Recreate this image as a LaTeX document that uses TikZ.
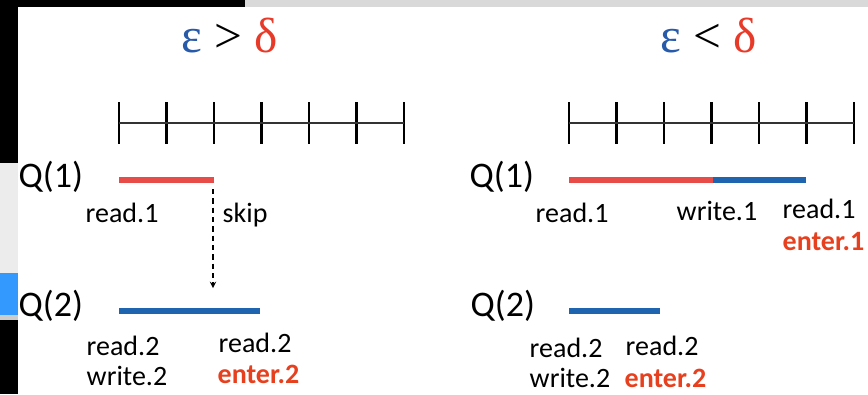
\documentclass[tikz,border=0pt]{standalone}
\usepackage{fontspec}
\setmainfont{Carlito}
\newfontfamily\symfont{Liberation Serif}
\definecolor{barred}{RGB}{232,76,72}
\definecolor{barblue}{RGB}{30,100,175}
\definecolor{epsblue}{RGB}{40,90,170}
\definecolor{deltared}{RGB}{232,58,40}
\definecolor{enterred}{RGB}{230,64,30}
\definecolor{winblue}{RGB}{51,153,255}
\tikzset{
  lbl/.style={anchor=base west,inner sep=0pt,font=\fontsize{21}{25}\selectfont},
  enter/.style={lbl,text=enterred,font=\fontsize{21}{25}\selectfont\bfseries},
  qlbl/.style={anchor=base west,inner sep=0pt,font=\fontsize{27}{32}\selectfont},
  title/.style={anchor=base,inner sep=0pt,font=\fontsize{37}{42}\symfont},
  bar/.style={line width=4.5pt},
  tick/.style={line width=2.2pt},
}
\newcommand{\eps}{\textcolor{epsblue}{ε}}
\newcommand{\dlt}{\textcolor{deltared}{δ}}
\begin{document}
\begin{tikzpicture}[x=.75pt,y=-.75pt,>=stealth,line width=1.1pt]
  \useasboundingbox (0,0) rectangle (868,394);
  % window edges
  \fill[black] (0,0) rectangle (18,394);
  \fill[black] (0,0) rectangle (245,7);
  \fill[gray!30] (245,0) rectangle (868,7);
  \fill[gray!15] (0,163) rectangle (18,273);
  \fill[winblue] (0,273) rectangle (18,315);
  \fill[gray!40] (0,315) rectangle (18,320);

  % eps > delta
  \node[title] (tl) at (230,52) {\eps{} > \dlt};
  \foreach \i in {0,...,6}
    \draw[tick] (119+47.5*\i,102)--(119+47.5*\i,144);
  \draw[black!80] (119,123)--(404,123);
  \node[qlbl] (qa) at (18,187) {Q(1)};
  \node[qlbl] (qb) at (18,316) {Q(2)};
  \coordinate (a0) at (119,180);
  \coordinate (a1) at (214,180);
  \coordinate (b0) at (119,311);
  \coordinate (b1) at (260,311);
  \draw[bar,barred] (a0)--(a1);
  \draw[bar,barblue] (b0)--(b1);
  \coordinate (s0) at (213,189);
  \coordinate (s1) at (213,288);
  \draw[dashed,dash pattern=on 4pt off 3pt,->] (s0)--(s1);
  \node[lbl] (ra) at (85,222) {read.1};
  \node[lbl] (sk) at (222,222) {skip};
  \node[lbl] (rb) at (86,355) {read.2};
  \node[lbl] (wb) at (86,385) {write.2};
  \node[lbl] (rc) at (218,352) {read.2};
  \node[enter] (eb) at (217,383) {enter.2};

  % eps < delta
  \node[title] (tr) at (709,52) {\eps{} < \dlt};
  \foreach \i in {0,...,6}
    \draw[tick] (569+47.5*\i,102)--(569+47.5*\i,144);
  \draw[black!80] (569,123)--(854,123);
  \node[qlbl] (qc) at (469,187) {Q(1)};
  \node[qlbl] (qd) at (470,316) {Q(2)};
  \coordinate (c0) at (569,180);
  \coordinate (c1) at (713,180);
  \coordinate (c2) at (806,180);
  \coordinate (d0) at (569,311);
  \coordinate (d1) at (660,311);
  \draw[bar,barred] (c0)--(c1);
  \draw[bar,barblue] (c1)--(c2);
  \draw[bar,barblue] (d0)--(d1);
  \node[lbl] (rd) at (535,222) {read.1};
  \node[lbl] (wd) at (676,220) {write.1};
  \node[lbl] (re) at (782,218) {read.1};
  \node[enter] (ee) at (782,250) {enter.1};
  \node[lbl] (rf) at (529,357) {read.2};
  \node[lbl] (rg) at (625,355) {read.2};
  \node[lbl] (wf) at (529,387) {write.2};
  \node[enter] (ef) at (624,387) {enter.2};
\end{tikzpicture}
\end{document}
